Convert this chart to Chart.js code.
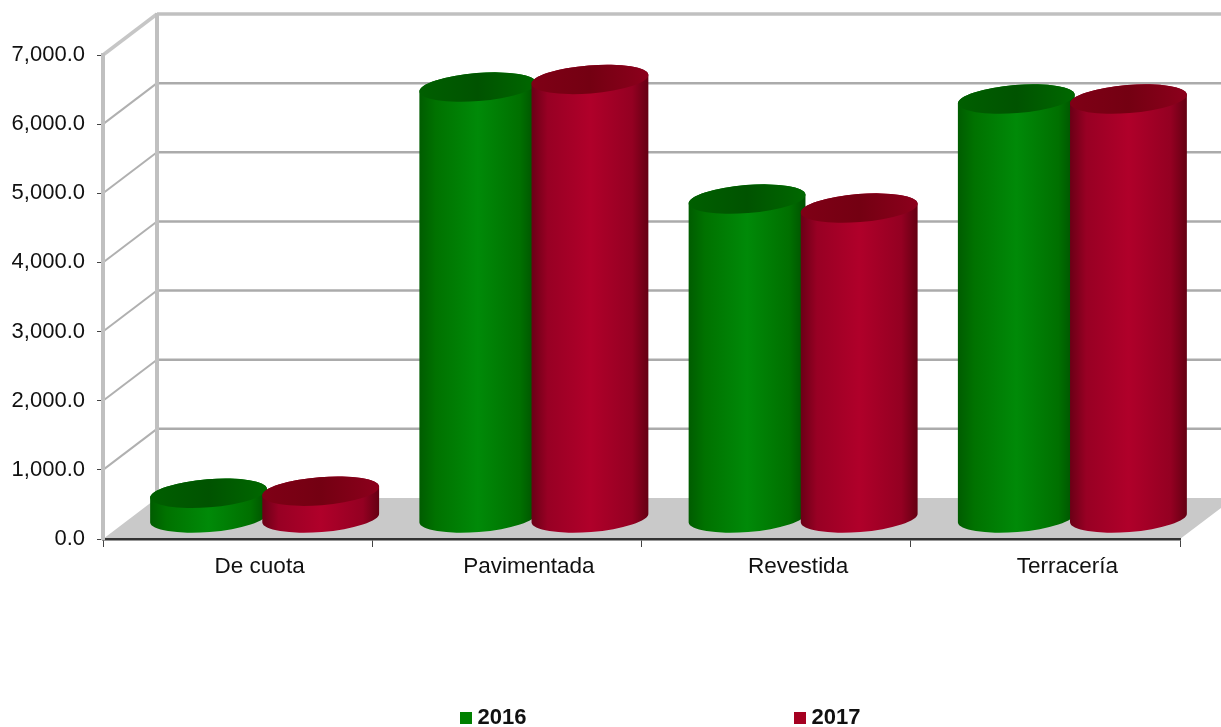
<!DOCTYPE html>
<html>
<head>
<meta charset="utf-8">
<script src="https://cdn.jsdelivr.net/npm/chart.js@4"></script>
<style>
html, body { margin: 0; padding: 0; background: #fff; }
canvas { display: block; filter: blur(0.45px); }
</style>
</head>
<body>
<canvas id="roadChart" width="1221" height="727"></canvas>
<script>
var categories = ['De cuota', 'Pavimentada', 'Revestida', 'Terracería'];
var values2016 = [365, 6240, 4620, 6067];
var values2017 = [395, 6350, 4490, 6067];
var seriesLabels = ['2016', '2017'];
var yMax = 7000;
var yStep = 1000;

var FONT = '"Liberation Sans", Arial, sans-serif';
// how far the back wall sits from the front axes
var depthX = 54;
var depthY = -41;
var tilt = -4.5 * Math.PI / 180;
var capRadius = 14;

var palettes = [
    { body: ['#005c00', '#007200', '#008a08', '#007000', '#005000'], cap: ['#005f00', '#005300', '#006800'], legend: '#008000' },
    { body: ['#6a0016', '#980024', '#b0002a', '#940022', '#640012'], cap: ['#7f0016', '#740012', '#8c001c'], legend: '#a50021' }
];

function line(ctx, x1, y1, x2, y2, color, width) {
    ctx.strokeStyle = color;
    ctx.lineWidth = width;
    ctx.beginPath();
    ctx.moveTo(x1, y1);
    ctx.lineTo(x2, y2);
    ctx.stroke();
}

function drawCylinder(ctx, bar, palette) {
    var rx = bar.width / 2;
    var cx = bar.x + depthX / 2;
    var top = bar.y + depthY / 2;
    var base = bar.base + depthY / 2;

    var bodyFill = ctx.createLinearGradient(cx - rx, 0, cx + rx, 0);
    bodyFill.addColorStop(0, palette.body[0]);
    bodyFill.addColorStop(0.14, palette.body[1]);
    bodyFill.addColorStop(0.5, palette.body[2]);
    bodyFill.addColorStop(0.86, palette.body[3]);
    bodyFill.addColorStop(1, palette.body[4]);
    ctx.fillStyle = bodyFill;
    ctx.beginPath();
    ctx.ellipse(cx, base, rx, capRadius, tilt, 0, Math.PI);
    ctx.ellipse(cx, top, rx, capRadius, tilt, Math.PI, 2 * Math.PI);
    ctx.closePath();
    ctx.fill();

    var capFill = ctx.createLinearGradient(cx - rx, 0, cx + rx, 0);
    capFill.addColorStop(0, palette.cap[0]);
    capFill.addColorStop(0.5, palette.cap[1]);
    capFill.addColorStop(1, palette.cap[2]);
    ctx.fillStyle = capFill;
    ctx.beginPath();
    ctx.ellipse(cx, top, rx, capRadius, tilt, 0, 2 * Math.PI);
    ctx.fill();
}

var walls = {
    id: 'walls',
    beforeDraw: function(chart) {
        var ctx = chart.ctx;
        var area = chart.chartArea;
        var y = chart.scales.y;
        var floorY = y.getPixelForValue(0);
        var width = chart.width;

        ctx.save();
        ctx.fillStyle = '#c9c9c9';
        ctx.beginPath();
        ctx.moveTo(area.left, floorY);
        ctx.lineTo(area.left + depthX, floorY + depthY);
        ctx.lineTo(width, floorY + depthY);
        ctx.lineTo(width, floorY + depthY + 10);
        ctx.lineTo(area.right, floorY);
        ctx.closePath();
        ctx.fill();

        y.ticks.forEach(function(tick) {
            var py = y.getPixelForValue(tick.value);
            var isTop = tick.value === yMax;
            if (tick.value > 0) {
                line(ctx, area.left, py, area.left + depthX, py + depthY, isTop ? '#c6c6c6' : '#b0b0b0', isTop ? 3.5 : 2);
                line(ctx, area.left + depthX, py + depthY, width, py + depthY, isTop ? '#c0c0c0' : '#ababab', isTop ? 3.5 : 2.5);
            }
        });
        line(ctx, area.left + depthX, area.top + depthY - 1, area.left + depthX, floorY + depthY, '#c0c0c0', 4);
        ctx.restore();
    }
};

var cylinders = {
    id: 'cylinders',
    afterDatasetsDraw: function(chart) {
        var ctx = chart.ctx;
        ctx.save();
        chart.data.datasets.forEach(function(ds, i) {
            chart.getDatasetMeta(i).data.forEach(function(bar) {
                drawCylinder(ctx, bar, palettes[i]);
            });
        });
        ctx.restore();
    }
};

var legendRow = {
    id: 'legendRow',
    afterDraw: function(chart) {
        var ctx = chart.ctx;
        var boxX = [460, 794];
        ctx.save();
        ctx.font = 'bold 22px ' + FONT;
        ctx.textBaseline = 'middle';
        seriesLabels.forEach(function(label, i) {
            ctx.fillStyle = palettes[i].legend;
            ctx.fillRect(boxX[i], 712, 12, 12);
            ctx.fillStyle = '#111';
            ctx.fillText(label, boxX[i] + 17.5, 718);
        });
        ctx.restore();
    }
};

var roadChart = new Chart(document.getElementById('roadChart'), {
    type: 'bar',
    plugins: [walls, cylinders, legendRow],
    data: {
        labels: categories,
        datasets: [{
            label: seriesLabels[0],
            data: values2016,
            backgroundColor: 'rgba(0,0,0,0)'
        },
        {
            label: seriesLabels[1],
            data: values2017,
            backgroundColor: 'rgba(0,0,0,0)'
        }]
    },
    options: {
        responsive: false,
        animation: false,
        categoryPercentage: 0.833,
        barPercentage: 1.045,
        layout: { padding: { top: 55, right: 41, left: 0, bottom: 0 } },
        plugins: {
            legend: { display: false },
            tooltip: { enabled: false }
        },
        scales: {
            x: {
                afterFit: function(scale) { scale.height = 188; },
                border: { color: '#333', width: 2.5 },
                grid: { drawOnChartArea: false, drawTicks: true, tickLength: 8, color: '#444' },
                ticks: { color: '#111', font: { family: FONT, size: 22.5 }, labelOffset: 22, padding: 6, maxRotation: 0 }
            },
            y: {
                min: 0,
                max: yMax,
                afterFit: function(scale) { scale.width = 103; },
                border: { color: '#c0c0c0', width: 4 },
                grid: { drawOnChartArea: false, drawTicks: true, tickLength: 6, color: '#444' },
                ticks: {
                    stepSize: yStep,
                    color: '#111',
                    padding: 12,
                    font: { family: FONT, size: 22 },
                    callback: function(value) {
                        return value.toLocaleString('en-US', { minimumFractionDigits: 1 });
                    }
                }
            }
        }
    }
});
</script>
</body>
</html>
